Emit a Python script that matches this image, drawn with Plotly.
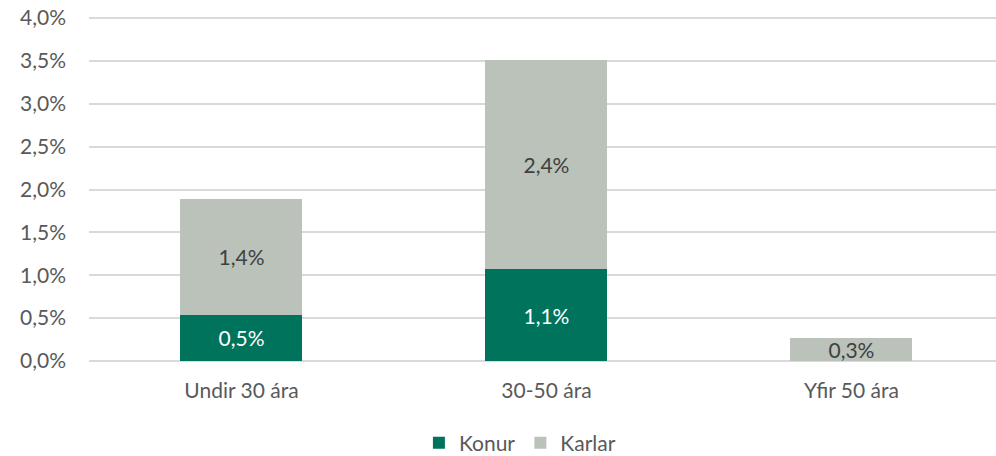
import plotly.graph_objects as go

categories = ["Undir 30 ára", "30-50 ára", "Yfir 50 ára"]
konur = [0.0054, 0.0107, 0.0]
karlar = [0.0135, 0.0244, 0.0027]
konur_labels = ["0,5%", "1,1%", ""]
karlar_labels = ["1,4%", "2,4%", "0,3%"]
tick_vals = [0, 0.005, 0.01, 0.015, 0.02, 0.025, 0.03, 0.035, 0.04]

FONT = "Lato, Calibri, Carlito, sans-serif"
FS = 21

fig = go.Figure()
fig.add_trace(go.Bar(
    name="Konur", x=categories, y=konur, text=konur_labels,
    textposition="inside", insidetextanchor="middle", constraintext="none",
    textfont=dict(color="white", size=FS, family=FONT),
    marker=dict(color="#00735C", line=dict(width=0)),
    width=0.4, hoverinfo="skip",
))
fig.add_trace(go.Bar(
    name="Karlar", x=categories, y=karlar, text=karlar_labels,
    textposition="inside", insidetextanchor="middle", constraintext="none",
    textfont=dict(color="#404040", size=FS, family=FONT),
    marker=dict(color="#BAC2BA", line=dict(width=0)),
    width=0.4, hoverinfo="skip",
))

fig.update_layout(
    width=996, height=456,
    barmode="stack",
    separators=",.",
    paper_bgcolor="white", plot_bgcolor="white",
    margin=dict(l=89, r=0, t=16, b=95, autoexpand=False),
    font=dict(family=FONT, size=FS, color="#595959"),
    xaxis=dict(range=[-0.5, 2.474], showgrid=False, showline=False,
               ticks="", automargin=False, ticklabelstandoff=15,
               tickfont=dict(size=FS, color="#595959")),
    yaxis=dict(range=[0, 0.040233], tickvals=tick_vals, tickformat=".1%",
               showgrid=True, gridcolor="#D9D9D9", gridwidth=1.5,
               zeroline=True, zerolinecolor="#D9D9D9", zerolinewidth=1.5,
               showline=False, ticks="", ticklabelstandoff=22, automargin=False,
               ticklabeloverflow="allow",
               tickfont=dict(size=FS, color="#595959")),
    legend=dict(orientation="h", xref="container", yref="container",
                x=0.522, xanchor="center", y=0.0285, yanchor="middle",
                font=dict(size=FS, color="#595959"),
                traceorder="normal", itemwidth=30),
    showlegend=True,
)

fig.write_html(
    "out.html",
    config={"displayModeBar": False},
    post_script="document.body.style.margin='0';document.body.style.overflow='hidden';",
)
